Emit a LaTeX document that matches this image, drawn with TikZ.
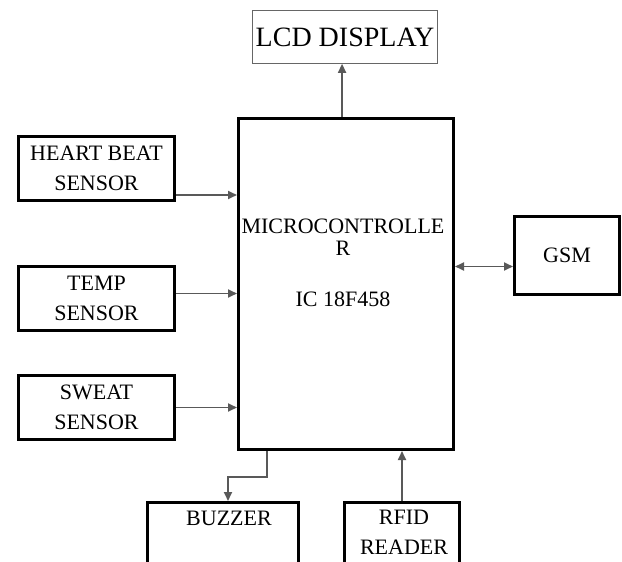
\documentclass[tikz,border=0pt]{standalone}
\usepackage{fontspec}
\setmainfont{Liberation Serif}
\usetikzlibrary{arrows.meta, positioning, calc}

\tikzset{
    blk/.style={draw, line width=3pt, anchor=north west, inner sep=0pt},
    lbl/.style={align=center, font=\fontsize{22}{30}\selectfont},
    arr/.style={draw=black!65, line width=1.7pt, -{Triangle[length=9pt, width=8pt]}},
}

\begin{document}
\begin{tikzpicture}[x=1pt, y=-1pt]
    \clip (0,0) rectangle (622,562);
    % blocks
    \node[blk, minimum width=215pt, minimum height=331pt] (micro) at (237,117) {};
    \node[lbl, font=\fontsize{22}{22}\selectfont] at (343,263) {MICROCONTROLLE\\R\\[29pt]IC 18F458};
    \node[draw=black!60, line width=0.8pt, anchor=north west, minimum width=179pt, minimum height=53pt,
        font=\fontsize{28}{30}\selectfont] (lcd) at (252,10) {LCD DISPLAY};
    \node[blk, minimum width=156pt, minimum height=64pt, lbl] (heart) at (17,135) {HEART BEAT\\SENSOR};
    \node[blk, minimum width=156pt, minimum height=64pt, lbl] (temp) at (17,265) {TEMP\\SENSOR};
    \node[blk, minimum width=156pt, minimum height=64pt, lbl] (sweat) at (17,374) {SWEAT\\SENSOR};
    \node[blk, minimum width=105pt, minimum height=78pt, lbl] (gsm) at (513,215) {GSM};
    \node[blk, minimum width=151pt, minimum height=90pt] (buzzer) at (146,501) {};
    \node[lbl, below=7pt of buzzer.north, xshift=6pt] {BUZZER};
    \node[blk, minimum width=115pt, minimum height=90pt] (rfid) at (343,501) {};
    \node[lbl, below=6pt of rfid.north, xshift=2pt] {RFID\\READER};

    % connectors
    \coordinate (hbout) at ([yshift=7pt]heart.south east);
    \coordinate (tpout) at ([yshift=5pt]temp.east);
    \coordinate (gsmin) at ([yshift=-11pt]gsm.west);
    \draw[arr] (hbout) -- (hbout -| micro.west);
    \draw[arr] (tpout) -- (tpout -| micro.west);
    \draw[arr] (sweat.east) -- (sweat.east -| micro.west);
    \draw[arr, {Triangle[length=9pt, width=8pt]}-{Triangle[length=9pt, width=8pt]}] (gsmin -| micro.east) -- (gsmin);
    \draw[arr] ([xshift=-3pt]micro.north -| lcd.south) -- ([xshift=-3pt]lcd.south);
    \draw[arr] ([xshift=30pt]micro.south west) -- ++(0,26) -| ([xshift=82pt]buzzer.north west);
    \draw[arr] (rfid.north) -- (rfid.north |- micro.south);
\end{tikzpicture}
\end{document}
